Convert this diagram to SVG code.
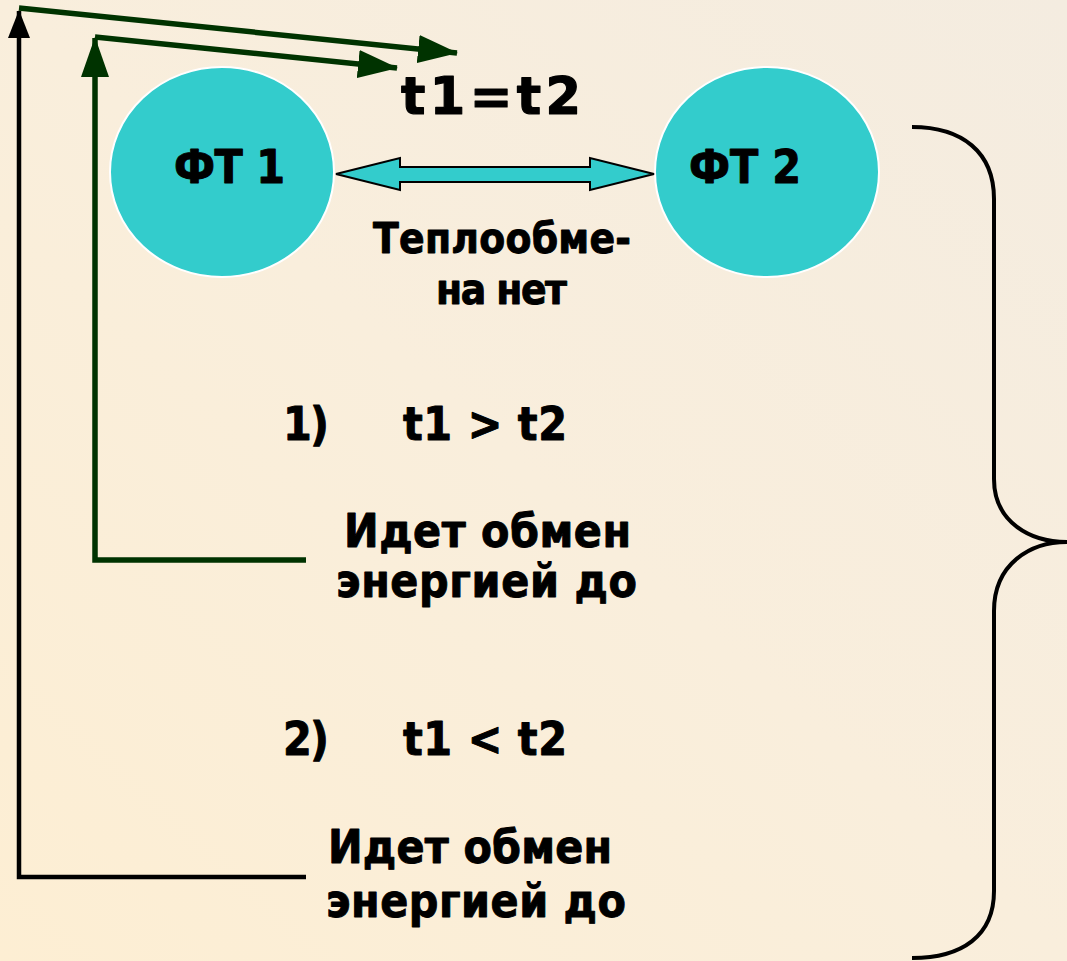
<svg xmlns="http://www.w3.org/2000/svg" width="1067" height="961" viewBox="0 0 1067 961">
<defs>
<linearGradient id="bg" x1="0" y1="1" x2="1" y2="0">
<stop offset="0" stop-color="#FDEED3"/>
<stop offset="0.5" stop-color="#F9EEDC"/>
<stop offset="1" stop-color="#F4ECE0"/>
</linearGradient>
<marker id="ahG" viewBox="0 0 40 28" refX="39" refY="14" markerWidth="40" markerHeight="28" markerUnits="userSpaceOnUse" orient="auto">
<path d="M0,0 L40,14 L0,28 z" fill="#003300"/>
</marker>
<marker id="ahK" viewBox="0 0 28 22" refX="27" refY="11" markerWidth="28" markerHeight="22" markerUnits="userSpaceOnUse" orient="auto">
<path d="M0,0 L28,11 L0,22 z" fill="#000000"/>
</marker>
</defs>
<style>
text{font-family:"DejaVu Sans Condensed","DejaVu Sans",sans-serif;font-stretch:condensed;font-weight:bold;fill:#000;stroke:#000;stroke-width:0.9;stroke-linejoin:round}
.t42{font-size:46px}
.t38{font-size:42px}
.eq{font-family:"DejaVu Sans",sans-serif;font-stretch:normal;font-size:51px;stroke-width:1.2}
.node{fill:#33CCCC;stroke:#FFFFFF;stroke-width:2}
.g{fill:none;stroke:#003300;stroke-width:5.5}
.k{fill:none;stroke:#000;stroke-width:4.5}
</style>
<rect width="1067" height="961" fill="url(#bg)"/>

<g id="node-ft1">
<ellipse class="node" cx="222" cy="172" rx="112" ry="105"/>
<text class="t42" x="174" y="183" textLength="111">ФТ 1</text>
</g>
<g id="node-ft2">
<ellipse class="node" cx="767" cy="172" rx="112" ry="105"/>
<text class="t42" x="689" y="183" textLength="112">ФТ 2</text>
</g>

<g id="label-eq">
<text class="eq" x="401" y="114" textLength="180">t1=t2</text>
</g>
<g id="label-noexchange">
<text class="t38" x="373" y="253" textLength="258">Теплообме-</text>
<text class="t38" x="436" y="304" textLength="131">на нет</text>
</g>
<g id="label-case1">
<text class="t42" x="283" y="440" textLength="46">1)</text>
<text class="t42" x="403" y="440" textLength="164">t1 &gt; t2</text>
</g>
<g id="label-exchange1">
<text class="t42" x="344" y="547" textLength="287">Идет обмен</text>
<text class="t42" x="336" y="597" textLength="301">энергией до</text>
</g>
<g id="label-case2">
<text class="t42" x="283" y="755" textLength="46">2)</text>
<text class="t42" x="403" y="755" textLength="164">t1 &lt; t2</text>
</g>
<g id="label-exchange2">
<text class="t42" x="328" y="863" textLength="284">Идет обмен</text>
<text class="t42" x="326" y="917" textLength="300">энергией до</text>
</g>

<g id="connectors">
<path d="M400,167 L400,158 L336,174 L400,190 L400,182 L590,182 L590,190 L654,174 L590,158 L590,167 Z" fill="#33CCCC" stroke="#000" stroke-width="2" stroke-linejoin="miter"/>
<path class="g" d="M306,560 L95,560 L95,38" marker-end="url(#ahG)"/>
<path class="g" d="M95,37 L397,68" marker-end="url(#ahG)"/>
<path class="k" d="M306,877 L19,877 L19,11" marker-end="url(#ahK)"/>
<path class="g" d="M19,8 L457,53" marker-end="url(#ahG)"/>
<path d="M912,127 C962,127 994,152 994,199 L994,479 C994,522 1030,542 1067,542 C1030,542 994,564 994,611 L994,891 C994,936 962,958 912,958" fill="none" stroke="#000" stroke-width="4"/>
</g>
</svg>
